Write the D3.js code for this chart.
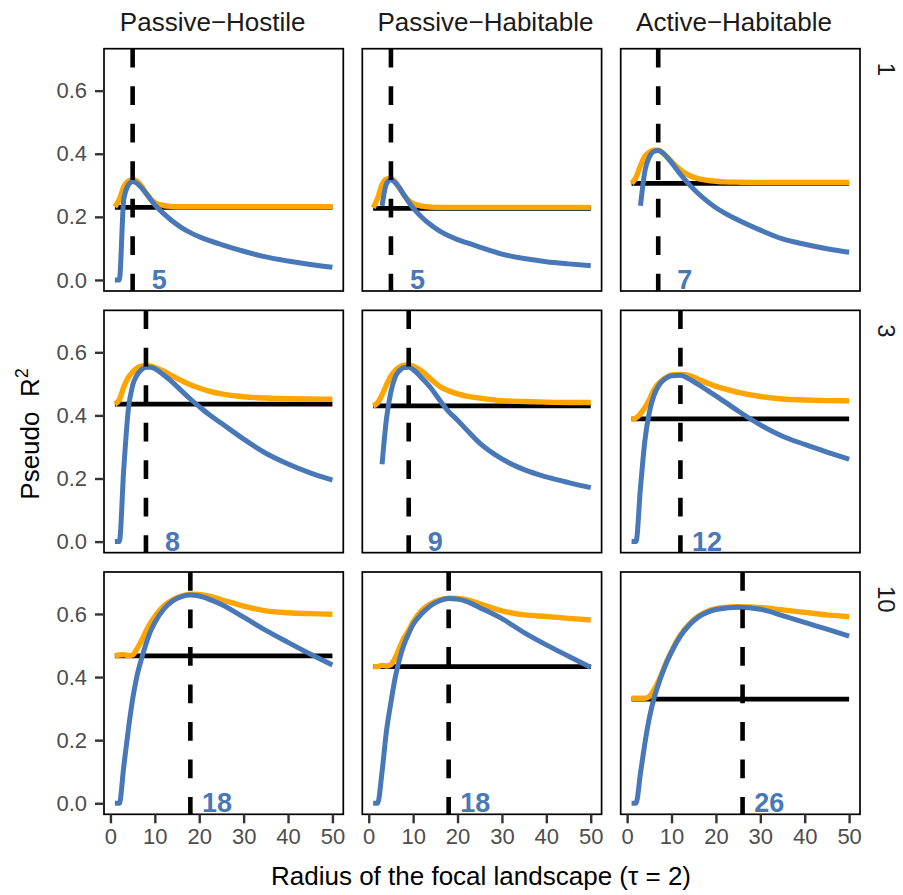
<!DOCTYPE html>
<html><head><meta charset="utf-8">
<script src="https://cdn.jsdelivr.net/npm/d3@7/dist/d3.min.js"></script>
<style>
body{margin:0;background:#fff}
text{font-family:"Liberation Sans",Arial,Helvetica,sans-serif}
</style>
</head><body>
<svg id="chart" width="903" height="895"></svg>
<script>
// ---------------- data ----------------
const radius = [1,2,3,4,5,6,7,8,9,10,12,14,16,18,20,22,25,30,35,40,45,50];
const landscapes = ["Passive\u2212Hostile","Passive\u2212Habitable","Active\u2212Habitable"];
const scaleLevels = ["1","3","10"];
const xTicks = [0,10,20,30,40,50];
const yTicks = [0,0.2,0.4,0.6];

// horizontal reference (null model) per row, one per landscape
const baseline1  = [0.230,0.227,0.306];
const baseline3  = [0.436,0.430,0.389];
const baseline10 = [0.467,0.433,0.330];

// optimal radius per row, one per landscape
const optimum1  = [5,5,7];
const optimum3  = [8,9,12];
const optimum10 = [18,18,26];

// blue curves
const blueHostile1   = [0,0,0.255,0.300,0.312,0.306,0.292,0.275,0.256,0.238,0.210,0.186,0.166,0.150,0.137,0.126,0.112,0.091,0.073,0.060,0.049,0.040];
const blueHabitable1 = [null,null,0.235,0.305,0.318,0.308,0.290,0.268,0.247,0.228,0.198,0.174,0.155,0.140,0.128,0.118,0.104,0.082,0.068,0.058,0.051,0.045];
const blueActive1    = [null,null,0.235,0.345,0.390,0.407,0.410,0.403,0.389,0.372,0.335,0.302,0.274,0.250,0.229,0.212,0.190,0.158,0.130,0.113,0.099,0.088];
const blueHostile3   = [0,0,0.230,0.415,0.495,0.528,0.545,0.553,0.553,0.548,0.528,0.505,0.478,0.452,0.428,0.405,0.375,0.325,0.280,0.246,0.218,0.195];
const blueHabitable3 = [null,null,0.245,0.390,0.475,0.523,0.543,0.552,0.553,0.545,0.518,0.487,0.448,0.412,0.385,0.355,0.312,0.262,0.228,0.205,0.187,0.171];
const blueActive3    = [0,0,0.170,0.320,0.410,0.462,0.492,0.510,0.520,0.526,0.527,0.515,0.498,0.480,0.462,0.443,0.414,0.370,0.334,0.308,0.284,0.261];
const blueHostile10  = [0,0,0.116,0.230,0.330,0.405,0.458,0.505,0.544,0.573,0.615,0.641,0.655,0.660,0.657,0.648,0.630,0.590,0.548,0.510,0.473,0.438];
const blueHabitable10= [0,0,0.100,0.230,0.320,0.401,0.460,0.505,0.538,0.567,0.602,0.627,0.642,0.649,0.647,0.640,0.620,0.585,0.541,0.502,0.466,0.431];
const blueActive10   = [0,0,0.095,0.190,0.270,0.330,0.375,0.415,0.450,0.480,0.530,0.565,0.590,0.605,0.614,0.618,0.621,0.615,0.595,0.573,0.552,0.530];

// orange curves
const orangeHostile1   = [0.232,0.255,0.295,0.313,0.318,0.312,0.297,0.276,0.258,0.245,0.236,0.233,0.232,0.232,0.232,0.232,0.232,0.232,0.232,0.232,0.232,0.232];
const orangeHabitable1 = [0.229,0.258,0.302,0.320,0.322,0.310,0.290,0.268,0.252,0.242,0.234,0.231,0.230,0.230,0.230,0.230,0.230,0.230,0.230,0.230,0.230,0.230];
const orangeActive1    = [0.306,0.325,0.362,0.392,0.405,0.411,0.411,0.403,0.390,0.375,0.349,0.331,0.321,0.316,0.313,0.311,0.310,0.309,0.309,0.309,0.309,0.309];
const orangeHostile3   = [0.436,0.450,0.490,0.520,0.537,0.550,0.556,0.558,0.556,0.552,0.540,0.525,0.510,0.497,0.487,0.478,0.468,0.459,0.455,0.453,0.452,0.451];
const orangeHabitable3 = [0.430,0.440,0.465,0.497,0.525,0.543,0.554,0.559,0.560,0.556,0.540,0.515,0.492,0.478,0.468,0.461,0.455,0.447,0.444,0.442,0.441,0.441];
const orangeActive3    = [0.389,0.392,0.405,0.425,0.450,0.480,0.500,0.513,0.522,0.528,0.530,0.526,0.515,0.503,0.492,0.484,0.473,0.460,0.452,0.449,0.447,0.446];
const orangeHostile10  = [0.467,0.470,0.471,0.468,0.470,0.490,0.515,0.545,0.571,0.592,0.625,0.645,0.657,0.663,0.662,0.657,0.645,0.625,0.610,0.604,0.601,0.599];
const orangeHabitable10= [0.433,0.433,0.437,0.435,0.440,0.462,0.495,0.525,0.548,0.575,0.612,0.633,0.645,0.650,0.649,0.645,0.632,0.610,0.597,0.592,0.586,0.581];
const orangeActive10   = [0.333,0.333,0.333,0.333,0.338,0.358,0.385,0.418,0.452,0.482,0.533,0.568,0.593,0.608,0.617,0.621,0.623,0.620,0.613,0.605,0.597,0.591];

// ---------------- assemble ----------------
const blueGrid = [[blueHostile1,blueHabitable1,blueActive1],[blueHostile3,blueHabitable3,blueActive3],[blueHostile10,blueHabitable10,blueActive10]];
const orangeGrid = [[orangeHostile1,orangeHabitable1,orangeActive1],[orangeHostile3,orangeHabitable3,orangeActive3],[orangeHostile10,orangeHabitable10,orangeActive10]];
const baselineGrid = [baseline1,baseline3,baseline10];
const optimumGrid = [optimum1,optimum3,optimum10];

const BLUE = "#4878B8", ORANGE = "#FFA500";
const svg = d3.select("#chart");
const colLeft = [104, 362.3, 620.7];
const rowTop = [48.7, 310.35, 572.0];
const pw = 239.3, ph = 242.3;
const stripCenters = [212.7, 485.5, 734];

const x = d3.scaleLinear().domain([-1.45, 52.45]).range([0, pw]);
const y = d3.scaleLinear().domain([-0.035, 0.733]).range([ph, 0]);

const line = d3.line()
  .defined(d => d[1] !== null)
  .x(d => x(d[0])).y(d => y(d[1]))
  .curve(d3.curveMonotoneX);

// strip titles (top)
landscapes.forEach((t, c) => {
  svg.append("text").attr("x", stripCenters[c]).attr("y", 31)
    .attr("text-anchor", "middle").attr("font-size", 26).attr("fill", "#1A1A1A").text(t);
});

for (let r = 0; r < 3; r++) {
  for (let c = 0; c < 3; c++) {
    const g = svg.append("g").attr("transform", `translate(${colLeft[c]},${rowTop[r]})`);
    g.append("rect").attr("width", pw).attr("height", ph).attr("fill", "#fff");

    // baseline
    const base = baselineGrid[r][c];
    g.append("path").datum([[radius[0], base],[radius[radius.length-1], base]])
      .attr("d", d3.line().x(d => x(d[0])).y(d => y(d[1])))
      .attr("stroke", "#000").attr("stroke-width", 4.8).attr("fill", "none");

    // orange
    g.append("path").datum(radius.map((v,i) => [v, orangeGrid[r][c][i]]))
      .attr("d", line).attr("stroke", ORANGE).attr("stroke-width", 5.4).attr("fill", "none")
      .attr("stroke-linejoin", "round");

    // blue
    g.append("path").datum(radius.map((v,i) => [v, blueGrid[r][c][i]]))
      .attr("d", line).attr("stroke", BLUE).attr("stroke-width", 5).attr("fill", "none")
      .attr("stroke-linejoin", "round");

    // dashed optimum
    const opt = optimumGrid[r][c];
    g.append("line").attr("x1", x(opt)).attr("x2", x(opt)).attr("y1", 0).attr("y2", ph)
      .attr("stroke", "#000").attr("stroke-width", 4.6).attr("stroke-dasharray", "18.75,18.75");

    // optimum label
    g.append("text").attr("x", x(opt + 6)).attr("y", y(0))
      .attr("text-anchor", "middle").attr("dominant-baseline", "central")
      .attr("font-size", 27).attr("font-weight", "bold").attr("fill", BLUE).text(opt);

    // border
    g.append("rect").attr("width", pw).attr("height", ph).attr("fill", "none")
      .attr("stroke", "#000").attr("stroke-width", 1.7);

    // y axis
    if (c === 0) {
      const ya = g.append("g").call(d3.axisLeft(y).tickValues(yTicks).tickFormat(d3.format(".1f")).tickSize(9).tickPadding(8));
      ya.select(".domain").remove();
      ya.selectAll(".tick line").attr("stroke", "#333333").attr("stroke-width", 2.4);
      ya.selectAll(".tick text").attr("font-size", 22).attr("fill", "#4D4D4D");
    }
    // x axis
    if (r === 2) {
      const xa = g.append("g").attr("transform", `translate(0,${ph})`)
        .call(d3.axisBottom(x).tickValues(xTicks).tickSize(9).tickPadding(5));
      xa.select(".domain").remove();
      xa.selectAll(".tick line").attr("stroke", "#333333").attr("stroke-width", 2.4);
      xa.selectAll(".tick text").attr("font-size", 22).attr("fill", "#4D4D4D");
    }
  }
  // right strip labels
  svg.append("text").attr("transform", `translate(886,${rowTop[r] + 14}) rotate(90)`)
    .attr("text-anchor", "start").attr("dominant-baseline", "central")
    .attr("font-size", 24).attr("fill", "#1A1A1A").text(scaleLevels[r]);
}

// x title
const xt = svg.append("text").attr("x", 481).attr("y", 885).attr("text-anchor", "middle")
  .attr("font-size", 26).attr("fill", "#000");
xt.append("tspan").text("Radius of the focal landscape (");
xt.append("tspan").text("\u03C4");
xt.append("tspan").text(" = 2)");

// y title
const yt = svg.append("text").attr("transform", "translate(39,434) rotate(-90)")
  .attr("text-anchor", "middle").attr("font-size", 26).attr("fill", "#000");
yt.append("tspan").text("Pseudo\u00A0\u00A0R");
yt.append("tspan").attr("dy", -11).attr("font-size", 18).text("2");
</script>
</body></html>
